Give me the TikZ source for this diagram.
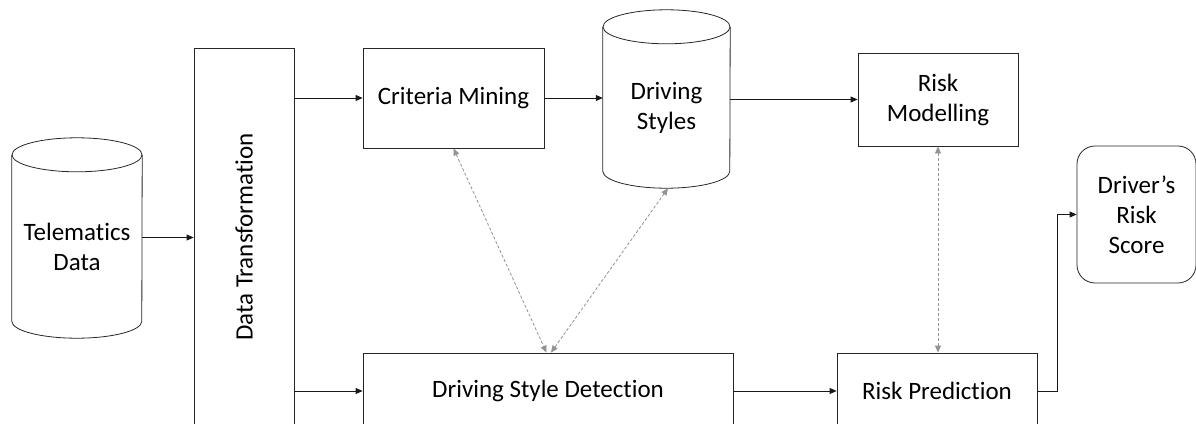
\documentclass[tikz,border=0pt]{standalone}
\usepackage{graphicx}
\usepackage{fontspec}
\setmainfont{Carlito}[RawFeature={-liga}]
\usetikzlibrary{arrows.meta,calc}
\begin{document}
\begin{tikzpicture}[x=1pt,y=-1pt,
  lbl/.style={align=center, inner sep=0pt, font=\fontsize{25}{30}\selectfont, text=black},
  box/.style={lbl, draw=black!85, line width=0.8pt},
  cyl/.style={draw=black!85, line width=0.8pt},
  arr/.style={-{Triangle[length=7pt,width=6pt]}, line width=0.8pt, draw=black!90},
  darr/.style={{Triangle[length=7pt,width=6pt]}-{Triangle[length=7pt,width=6pt]}, draw=gray!85, line width=0.8pt, dash pattern=on 3pt off 2pt}]
\useasboundingbox (0,0) rectangle (1196,423);
\clip (0,0) rectangle (1196,423);

% Telematics data cylinder
\node[lbl, minimum width=130pt, minimum height=183pt] (tel) at (77,246.5) {Telematics\\Data};
\draw[cyl] (tel.north west) -- ([yshift=17pt]tel.south west)
  arc[start angle=180, end angle=360, x radius=65pt, y radius=17pt] -- (tel.north east);
\draw[cyl] (tel.north) ellipse [x radius=65pt, y radius=17pt];

% Data transformation
\node[box, minimum width=100pt, minimum height=378pt] (dt) at (244,237) {\rotatebox{90}{Data Transformation}};

% Criteria mining
\node[box, minimum width=181pt, minimum height=100pt] (cm) at (453.5,98) {Criteria Mining};

% Driving styles cylinder
\node[lbl, minimum width=127pt, minimum height=161pt] (ds) at (666.5,107.5) {Driving\\Styles};
\draw[cyl] (ds.north west) -- ([yshift=17pt]ds.south west)
  arc[start angle=180, end angle=360, x radius=63.5pt, y radius=17pt] -- (ds.north east);
\draw[cyl] (ds.north) ellipse [x radius=63.5pt, y radius=17pt];

% Risk modelling
\node[box, minimum width=160pt, minimum height=93pt] (rm) at (938,99.5) {Risk\\Modelling};

% Driver's risk score
\node[box, rounded corners=18pt, minimum width=119pt, minimum height=137pt] (drs) at (1136.5,214.5) {Driver’s\\Risk\\Score};

% Bottom row
\node[box, minimum width=370pt, minimum height=76pt] (dsd) at (548,391) {Driving Style Detection};
\node[box, minimum width=200pt, minimum height=76pt] (rp) at (937,391) {Risk Prediction};

% Solid arrows
\draw[arr] ([yshift=9pt]tel.east) -- ([yshift=9pt]tel.east -| dt.west);
\draw[arr] (dt.east |- cm.west) -- (cm.west);
\draw[arr] (cm.east) -- (cm.east -| ds.west);
\draw[arr] (ds.east |- rm.west) -- (rm.west);
\draw[arr] (dt.east |- dsd.west) -- (dsd.west);
\draw[arr] (dsd.east) -- (rp.west);
\draw[arr] (rp.east) -- ++(20,0) |- (drs.west);

% Dashed double arrows
\draw[darr] (cm.south) -- ([xshift=-1.5pt]dsd.north);
\draw[darr] ([xshift=1.5pt]ds.south) -- ([xshift=3pt]dsd.north);
\draw[darr] (rm.south) -- (rm.south |- rp.north);
\end{tikzpicture}
\end{document}
